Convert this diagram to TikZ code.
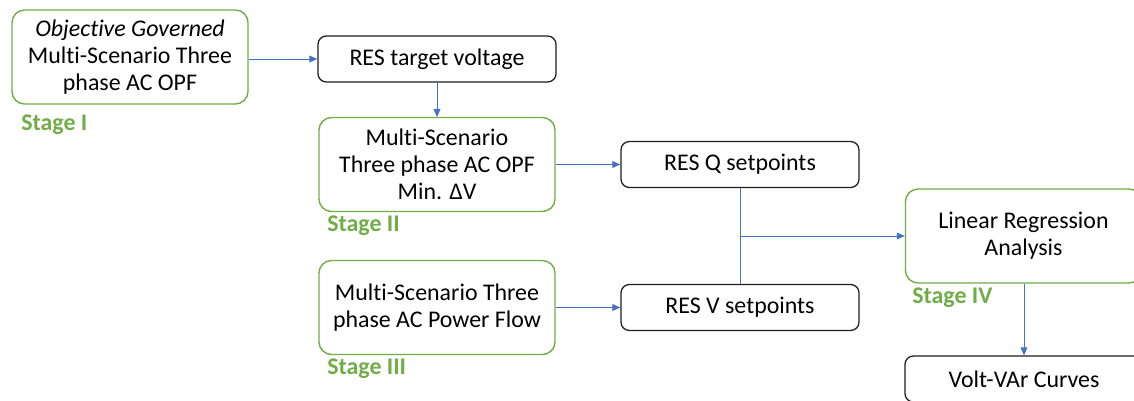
\documentclass[tikz,border=0pt]{standalone}
\usepackage{fontspec}
\setmainfont{Carlito}[Ligatures=NoCommon]
\usetikzlibrary{positioning,arrows.meta,calc}
\definecolor{stageC}{RGB}{112,173,71}
\definecolor{linkC}{RGB}{68,114,196}
\definecolor{boxC}{RGB}{30,30,30}
\tikzset{
	stagebox/.style={draw=stageC, rounded corners=9pt, line width=1pt, fill=white,
		minimum width=5.9cm, minimum height=2.35cm, align=center,
		font=\fontsize{17}{19}\selectfont},
	resbox/.style={draw=boxC, rounded corners=6pt, line width=0.9pt, fill=white,
		minimum width=5.95cm, minimum height=1.15cm,
		font=\fontsize{17}{19}\selectfont},
	stagelabel/.style={anchor=west, text=stageC, inner sep=0pt,
		font=\fontsize{17}{19}\selectfont\bfseries},
	flow/.style={-{Triangle[length=2mm,width=1.7mm]}, line width=0.6pt, linkC},
	link/.style={line width=0.6pt, linkC},
}

\begin{document}
\begin{tikzpicture}[x=0.025cm,y=-0.025cm]
		\useasboundingbox (0,0) rectangle (1134,401);
		\clip (0,0) rectangle (1134,401);
		
		% =============== STAGE I ===============
		\node[stagebox] (opf) at (130,57)
		{\textit{Objective Governed}\\Multi-Scenario Three\\phase AC OPF};
		\node[stagelabel] (lbI) at (21,125) {Stage I};
		\node[resbox] (target) at (437,59) {RES target voltage};
		
		\draw[flow] (opf.east |- target) -- (target.west);
		\draw[flow] (target) -- (437,117);
		
		% =============== STAGE II ===============
		\node[stagebox] (mindv) at (437,164.5)
		{Multi-Scenario\\Three phase AC OPF\\Min. ΔV};
		\node[stagelabel] (lbII) at (327,226) {Stage II};
		\node[resbox] (resQ) at (740,164.5) {RES Q setpoints};
		
		\draw[flow] (mindv) -- (resQ);
		
		% =============== STAGE III ===============
		\node[stagebox] (pflow) at (437,307.5)
		{Multi-Scenario Three\\phase AC Power Flow};
		\node[stagelabel] (lbIII) at (327,369) {Stage III};
		\node[resbox] (resV) at (740,307.5) {RES V setpoints};
		
		\draw[flow] (pflow) -- (resV);
		
		% =============== STAGE IV ===============
		\coordinate (jn) at ($(resQ.south)!0.5!(resV.north)$);
		\node[stagebox] (lra) at (1023.5,236) {Linear Regression\\Analysis};
		\node[stagelabel] (lbIV) at (912,298) {Stage IV};
		\node[resbox] (curves) at (1024,379) {Volt-VAr Curves};
		
		\draw[link] (resQ) -- (resV);
		\draw[flow] (jn) -- (lra.west |- jn);
		\draw[flow] (lra.south -| curves) -- (curves.north);
		
	\end{tikzpicture}
\end{document}
